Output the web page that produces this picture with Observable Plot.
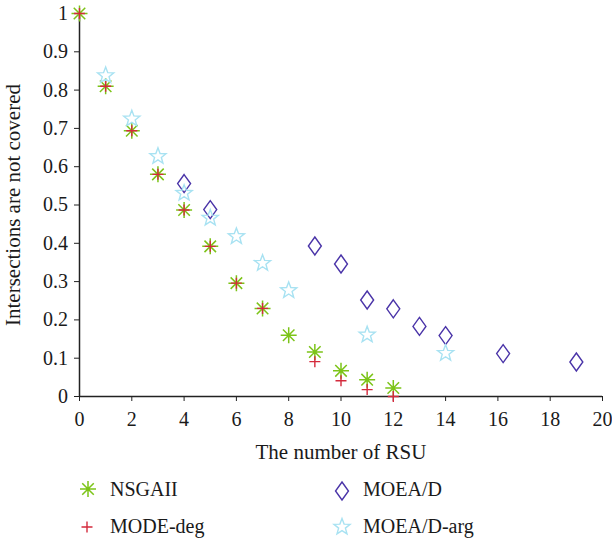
<!DOCTYPE html>
<html><head><meta charset="utf-8">
<script src="https://cdn.jsdelivr.net/npm/d3@7"></script>
<script src="https://cdn.jsdelivr.net/npm/@observablehq/plot@0.6"></script>
<style>
body{margin:0;background:#fff;font-family:"Liberation Serif","DejaVu Serif",serif}
#legend{position:relative;width:612px;height:76px}
.item{position:absolute;font-size:20px;color:#1a1a1a;line-height:20px;white-space:nowrap}
.sym{position:absolute}
</style></head><body>
<div id="chart"></div><div id="legend"></div>
<script>
// ---- data ----
const nsgaiiX = [0,1,2,3,4,5,6,7,8,9,10,11,12];
const nsgaiiY = [1.0,0.810,0.694,0.580,0.487,0.392,0.296,0.230,0.160,0.116,0.067,0.044,0.022];
const modeX = [0,1,2,3,4,5,6,7,9,10,11,12];
const modeY = [1.0,0.810,0.694,0.580,0.487,0.392,0.296,0.230,0.091,0.041,0.018,0.0];
const moeadX = [4,5,9,10,11,12,13,14,16.2,19];
const moeadY = [0.556,0.488,0.393,0.346,0.252,0.229,0.183,0.159,0.112,0.090];
const argX = [1,2,3,4,5,6,7,8,11,14];
const argY = [0.838,0.725,0.627,0.531,0.466,0.418,0.348,0.277,0.161,0.113];
const seriesNames = ["NSGAII","MODE-deg","MOEA/D","MOEA/D-arg"];
const xTicks = [0,2,4,6,8,10,12,14,16,18,20];
const yTicks = [0,0.1,0.2,0.3,0.4,0.5,0.6,0.7,0.8,0.9,1];
const xLabel = "The number of RSU";
const yLabel = "Intersections are not covered";

// ---- symbols ----
const rad = s => Math.sqrt(s/Math.PI);
const asterisk = {draw(c,s){const r=rad(s);const d=r*0.72;
  c.moveTo(-r,0);c.lineTo(r,0);c.moveTo(0,-r);c.lineTo(0,r);
  c.moveTo(-d,-d);c.lineTo(d,d);c.moveTo(-d,d);c.lineTo(d,-d);}};
const plus = {draw(c,s){const r=rad(s);c.moveTo(-r,0);c.lineTo(r,0);c.moveTo(0,-r);c.lineTo(0,r);}};
const tallDiamond = {draw(c,s){const r=rad(s);const w=r*0.72;
  c.moveTo(0,-r);c.lineTo(w,0);c.lineTo(0,r);c.lineTo(-w,0);c.closePath();}};
const star = {draw(c,s){const R=rad(s);const ri=R*0.42;
  for(let i=0;i<10;i++){const a=-Math.PI/2+i*Math.PI/5;const rr=i%2?ri:R;
    const x=rr*Math.cos(a),y=rr*Math.sin(a); if(i===0)c.moveTo(x,y);else c.lineTo(x,y);}
  c.closePath();}};

const series = [
  {name:seriesNames[0], xs:nsgaiiX, ys:nsgaiiY, sym:asterisk, r:8, color:"#7cc418", sw:1.5},
  {name:seriesNames[1], xs:modeX, ys:modeY, sym:plus, r:5.5, color:"#d42a3c", sw:1.4},
  {name:seriesNames[2], xs:moeadX, ys:moeadY, sym:tallDiamond, r:9, color:"#4a34a8", sw:1.4},
  {name:seriesNames[3], xs:argX, ys:argY, sym:star, r:8.5, color:"#a8e2f2", sw:1.4}
];

const marks = [
  Plot.axisX({ticks:xTicks, tickSize:5, tickPadding:10, fontSize:20, label:null, stroke:"#222"}),
  Plot.axisY({ticks:yTicks, tickSize:5, tickPadding:6.5, fontSize:20, label:null, tickFormat:d=>String(d), stroke:"#222"}),
  Plot.axisX({ticks:[], tickSize:0, label:xLabel, labelAnchor:"center", labelOffset:62, labelArrow:"none", fontSize:21}),
  Plot.axisY({ticks:[], tickSize:0, label:yLabel, labelAnchor:"center", labelOffset:74, labelArrow:"none", fontSize:21}),
  Plot.ruleX([0],{stroke:"#222",strokeWidth:1.5}),
  Plot.ruleY([0],{stroke:"#222",strokeWidth:1.5})
];
for (const s of series) {
  const data = s.xs.map((x,i)=>({x, y:s.ys[i]}));
  marks.push(Plot.dot(data,{x:"x",y:"y",symbol:s.sym,r:s.r,stroke:s.color,strokeWidth:s.sw,fill:"none"}));
}

const chart = Plot.plot({
  width:612, height:465,
  marginLeft:79, marginRight:10, marginTop:13, marginBottom:69,
  style:{fontFamily:"'Liberation Serif', serif", fontSize:"20px", color:"#1a1a1a", background:"#fff", overflow:"visible"},
  x:{domain:[0,20]},
  y:{domain:[0,1]},
  marks
});
document.getElementById("chart").appendChild(chart);

// ---- legend ----
const leg = document.getElementById("legend");
const pos = [[88,24,110],[86.7,62,110],[341.7,25.7,363],[341.7,62,363]];
const textTop = [14,51,14,51];
[0,1,2,3].forEach((k,i)=>{
  const s=series[k]; const [sx,sy,tx]=pos[i];
  const p=d3.path(); s.sym.draw(p, Math.PI*s.r*s.r);
  const svg=document.createElementNS("http://www.w3.org/2000/svg","svg");
  svg.setAttribute("width",24);svg.setAttribute("height",24);
  svg.setAttribute("class","sym");
  svg.style.left=(sx-12)+"px";svg.style.top=(sy-12)+"px";
  svg.innerHTML=`<path transform="translate(12,12)" d="${p.toString()}" fill="none" stroke="${s.color}" stroke-width="${s.sw}"/>`;
  leg.appendChild(svg);
  const t=document.createElement("div");t.className="item";t.textContent=s.name;
  t.style.left=tx+"px";t.style.top=textTop[i]+"px";leg.appendChild(t);
});
</script>
</body></html>
